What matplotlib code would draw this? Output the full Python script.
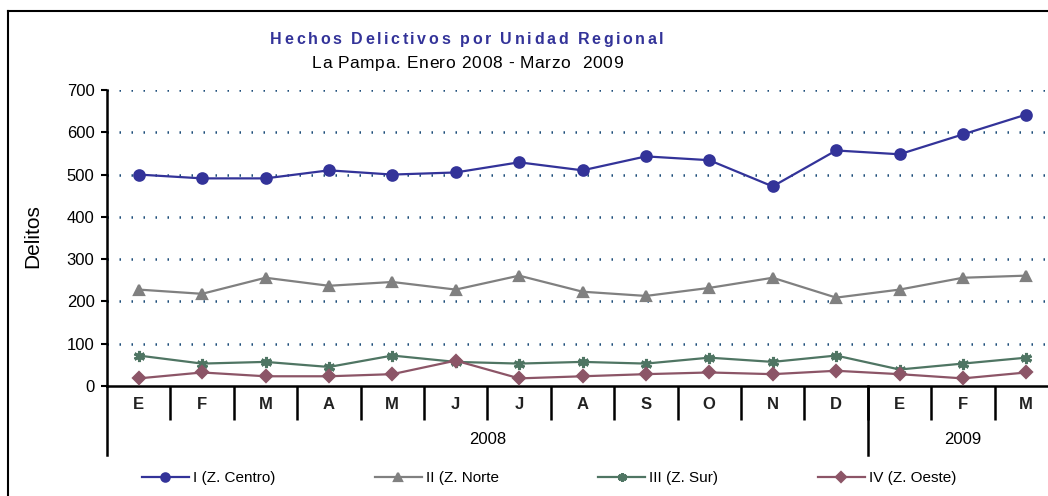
import numpy as np
import matplotlib
matplotlib.use("Agg")
import matplotlib.pyplot as plt
from matplotlib.lines import Line2D

plt.rcParams["font.family"] = ["Liberation Sans", "DejaVu Sans"]

# Datos (lectura aproximada del grafico)
meses = ["E", "F", "M", "A", "M", "J", "J", "A", "S", "O", "N", "D", "E", "F", "M"]
anios = ["2008", "2009"]
meses_por_anio = [12, 3]

centro = [500, 491, 491, 510, 500, 505, 529, 510, 543, 534, 472, 557, 548, 595, 642]
norte = [228, 218, 256, 237, 246, 228, 261, 223, 213, 232, 256, 209, 228, 256, 261]
sur = [72, 53, 57, 45, 72, 57, 53, 57, 53, 67, 57, 72, 39, 53, 67]
oeste = [18, 32, 23, 23, 28, 60, 18, 23, 28, 32, 28, 36, 28, 18, 32]

series = [
    ("I (Z. Centro)", centro, "#333399", "o", 7.5, 1.6),
    ("II (Z. Norte", norte, "#808080", "^", 7.5, 1.6),
    ("III (Z. Sur)", sur, "#4f7563", (6, 2, 0), 8, 2.2),
    ("IV (Z. Oeste)", oeste, "#8c5567", "D", 6, 1.6),
]

titulo = "Hechos Delictivos por Unidad Regional"
subtitulo = "La Pampa. Enero 2008 - Marzo  2009"

W, H = 1048, 496
fig = plt.figure(figsize=(W / 100, H / 100), dpi=100)
ax = fig.add_axes([107 / W, 110 / H, 951 / W, 296 / H])
renderer = fig.canvas.get_renderer()


def ancho(s, **kw):
    # ancho en px de s (con el truco de "|" para contar espacios finales)
    t = fig.text(0, 0, s + "|", **kw)
    b = fig.text(0, 0, "|", **kw)
    w = t.get_window_extent(renderer).width - b.get_window_extent(renderer).width
    t.remove()
    b.remove()
    return w


def texto_espaciado(xc, y, s, extra, **kw):
    # texto con espaciado entre letras, y = linea base en px desde arriba
    total = ancho(s, **kw) + extra * (len(s) - 1)
    x0 = xc - total / 2
    for i, ch in enumerate(s):
        if ch == " ":
            continue
        xi = x0 + ancho(s[:i], **kw) + extra * i
        fig.text(xi / W, 1 - y / H, ch, ha="left", va="baseline", **kw)


x = np.arange(len(meses))
for nombre, vals, color, mk, ms, mew in series:
    ax.plot(x, vals, color=color, lw=1.6, marker=mk, ms=ms,
            mec=color, mfc=color, mew=mew, label=nombre, zorder=3)

ax.set_xlim(-0.5, len(meses) - 0.5)
ax.set_ylim(0, 700)
ax.set_yticks(np.arange(0, 701, 100))
ax.tick_params(axis="y", length=4, width=1.5, labelsize=12, pad=5)

# grilla punteada
for v in np.arange(100, 701, 100):
    ax.axhline(v, color="#1f4e7a", lw=1.8, ls=(0, (0.6, 4.2)), zorder=1)

for s in ["top", "right"]:
    ax.spines[s].set_visible(False)
for s in ["left", "bottom"]:
    ax.spines[s].set_linewidth(1.8)

# etiquetas de meses y separadores
ax.set_xticks(x)
ax.set_xticklabels(meses, fontsize=12, fontweight="bold", color="#222222")
ax.tick_params(axis="x", which="major", length=0, pad=8)
ax.set_xticks(np.arange(0.5, len(meses) - 1, 1), minor=True)
ax.tick_params(axis="x", which="minor", length=24.5, width=1.8, direction="out")

# lineas largas de separacion de anios y etiquetas
largo = -69 / 296
inicio = -0.5
for anio, n in zip(anios, meses_por_anio):
    ax.plot([inicio, inicio], [0, largo], color="black", lw=1.8,
            transform=ax.get_xaxis_transform(), clip_on=False)
    ax.text(inicio + n / 2, -54 / 296, anio, ha="center", va="center", fontsize=12,
            transform=ax.get_xaxis_transform())
    inicio += n

fig.text(33 / W, 1 - 236 / H, "Delitos", rotation=90, ha="center", va="center", fontsize=15)

texto_espaciado(467, 44, titulo, 2.6, fontsize=11.5, fontweight="bold", color="#333399")
texto_espaciado(467, 68, subtitulo, 0.6, fontsize=12.5)

leg = fig.legend(loc="center left", bbox_to_anchor=(128 / W, 1 - 478 / H), ncol=4, frameon=False,
                 fontsize=11, handlelength=3.1, handletextpad=0.25, columnspacing=6.5,
                 markerscale=0.8)

# borde de la figura
fig.add_artist(Line2D([8 / W, 8 / W], [0, 1 - 11 / H], color="black", lw=1.5))
fig.add_artist(Line2D([8 / W, 1], [1 - 11 / H, 1 - 11 / H], color="black", lw=1.5))

fig.savefig("out.png", dpi=100)
